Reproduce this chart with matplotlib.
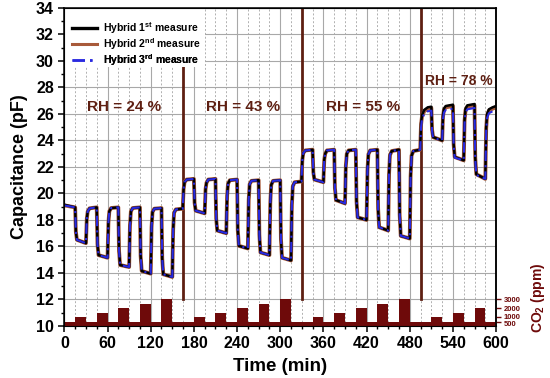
import matplotlib
matplotlib.use("Agg")
import matplotlib.pyplot as plt
from matplotlib.patches import Rectangle
from matplotlib.transforms import ScaledTranslation

plt.rcParams['font.family'] = ['Liberation Sans', 'DejaVu Sans']
plt.rcParams['mathtext.fontset'] = 'custom'
plt.rcParams['mathtext.rm'] = 'Liberation Sans'
plt.rcParams['mathtext.bf'] = 'Liberation Sans:bold'
plt.rcParams['mathtext.it'] = 'Liberation Sans:italic'

# ---------------- data ----------------
time_min = [
    0, 15, 16, 17.5, 30, 31.2, 32.5, 35, 45, 46, 47.5, 60, 61.2, 62.5, 65, 75, 76, 77.5, 90, 91.2, 92.5, 95,
    105, 106, 107.5, 120, 121.2, 122.5, 125, 135, 136, 137.5, 150, 151.2, 152.5, 155, 164.5,
    165.7, 167, 170, 180, 181, 182.5, 195, 196.2, 197.5, 200, 210, 211, 212.5, 225, 226.2, 227.5, 230,
    240, 241, 242.5, 255, 256.2, 257.5, 260, 270, 271, 272.5, 285, 286.2, 287.5, 290,
    300, 301, 302.5, 315, 316.2, 317.5, 320, 329.5,
    330.7, 332, 335, 345, 346, 347.5, 360, 361.2, 362.5, 365, 375, 376, 377.5, 390, 391.2, 392.5, 395,
    405, 406, 407.5, 420, 421.2, 422.5, 425, 435, 436, 437.5, 450, 451.2, 452.5, 455,
    465, 466, 467.5, 480, 481.2, 482.5, 485, 494.5,
    495.7, 497, 500, 505, 510, 511, 512.5, 525, 526.2, 527.5, 530, 540, 541, 542.5, 555, 556.2, 557.5, 560,
    570, 571, 572.5, 585, 586.2, 587.5, 590, 595, 600]

cap_1st = [
    19.15, 18.95, 17.1, 16.5, 16.25, 18.1, 18.65, 18.88, 18.95, 16.2, 15.35, 15.15, 17.75, 18.65, 18.9, 18.95, 15.65, 14.6, 14.45, 17.6, 18.65, 18.9,
    18.95, 15.3, 14.15, 13.95, 17.45, 18.6, 18.85, 18.9, 15.1, 13.9, 13.7, 17.3, 18.55, 18.8, 18.85,
    20.3, 20.85, 21.05, 21.1, 19.3, 18.7, 18.5, 20.3, 20.8, 21.05, 21.1, 18.1, 17.2, 17.0, 19.85, 20.75, 21.0,
    21.05, 17.25, 16.05, 15.85, 19.5, 20.7, 20.95, 21.0, 16.9, 15.55, 15.35, 19.3, 20.65, 20.95,
    21.0, 16.55, 15.15, 14.95, 19.15, 20.55, 20.85, 20.9,
    22.5, 23.05, 23.25, 23.3, 21.6, 21.05, 20.85, 22.55, 23.0, 23.25, 23.3, 20.4, 19.5, 19.25, 22.1, 23.0, 23.25,
    23.3, 19.45, 18.2, 18.0, 21.7, 22.95, 23.25, 23.3, 18.85, 17.45, 17.2, 21.45, 22.9, 23.2,
    23.3, 18.4, 16.8, 16.6, 21.3, 22.85, 23.2, 23.3,
    25.3, 25.9, 26.3, 26.5, 26.55, 24.8, 24.25, 24.0, 25.9, 26.4, 26.6, 26.7, 23.7, 22.75, 22.5, 25.6, 26.4, 26.65,
    26.75, 22.7, 21.45, 21.1, 25.0, 26.0, 26.35, 26.5, 26.6]

cap_2nd = [
    19.1, 18.95, 17.1, 16.5, 16.25, 18.1, 18.65, 18.88, 18.95, 16.2, 15.35, 15.15, 17.75, 18.65, 18.9, 18.95, 15.65, 14.6, 14.45, 17.6, 18.65, 18.9,
    18.95, 15.3, 14.15, 13.95, 17.45, 18.6, 18.85, 18.9, 15.1, 13.9, 13.7, 17.3, 18.55, 18.8, 18.85,
    20.3, 20.85, 21.05, 21.1, 19.3, 18.7, 18.5, 20.3, 20.8, 21.05, 21.1, 18.1, 17.2, 17.0, 19.85, 20.75, 21.0,
    21.05, 17.25, 16.05, 15.85, 19.5, 20.7, 20.95, 21.0, 16.9, 15.55, 15.35, 19.3, 20.65, 20.95,
    21.0, 16.55, 15.15, 14.95, 19.15, 20.55, 20.85, 20.9,
    22.5, 23.05, 23.25, 23.3, 21.6, 21.05, 20.85, 22.55, 23.0, 23.25, 23.3, 20.4, 19.5, 19.25, 22.1, 23.0, 23.25,
    23.3, 19.45, 18.2, 18.0, 21.7, 22.95, 23.25, 23.3, 18.85, 17.45, 17.2, 21.45, 22.9, 23.2,
    23.3, 18.4, 16.8, 16.6, 21.3, 22.85, 23.2, 23.3,
    25.2, 25.8, 26.2, 26.4, 26.45, 24.8, 24.25, 24.0, 25.8, 26.3, 26.5, 26.6, 23.7, 22.75, 22.5, 25.5, 26.3, 26.55,
    26.65, 22.7, 21.45, 21.1, 24.9, 25.9, 26.25, 26.4, 26.5]

cap_3rd = [
    19.1, 18.95, 17.1, 16.5, 16.25, 18.1, 18.65, 18.88, 18.95, 16.2, 15.35, 15.15, 17.75, 18.65, 18.9, 18.95, 15.65, 14.6, 14.45, 17.6, 18.65, 18.9,
    18.95, 15.3, 14.15, 13.95, 17.45, 18.6, 18.85, 18.9, 15.1, 13.9, 13.7, 17.3, 18.55, 18.8, 18.85,
    20.3, 20.85, 21.05, 21.1, 19.3, 18.7, 18.5, 20.3, 20.8, 21.05, 21.1, 18.1, 17.2, 17.0, 19.85, 20.75, 21.0,
    21.05, 17.25, 16.05, 15.85, 19.5, 20.7, 20.95, 21.0, 16.9, 15.55, 15.35, 19.3, 20.65, 20.95,
    21.0, 16.55, 15.15, 14.95, 19.15, 20.55, 20.85, 20.9,
    22.5, 23.05, 23.25, 23.3, 21.6, 21.05, 20.85, 22.55, 23.0, 23.25, 23.3, 20.4, 19.5, 19.25, 22.1, 23.0, 23.25,
    23.3, 19.45, 18.2, 18.0, 21.7, 22.95, 23.25, 23.3, 18.85, 17.45, 17.2, 21.45, 22.9, 23.2,
    23.3, 18.4, 16.8, 16.6, 21.3, 22.85, 23.2, 23.3,
    25.0, 25.6, 26.0, 26.2, 26.25, 24.7, 24.2, 24.0, 25.6, 26.1, 26.3, 26.4, 23.6, 22.7, 22.5, 25.3, 26.1, 26.35,
    26.45, 22.6, 21.4, 21.1, 24.7, 25.7, 26.05, 26.2, 26.3]

co2_start = [15, 45, 75, 105, 135, 180, 210, 240, 270, 300, 345, 375, 405, 435, 465, 510, 540, 570]
co2_ppm = [1000, 1500, 2000, 2500, 3000, 1000, 1500, 2000, 2500, 3000,
           1000, 1500, 2000, 2500, 3000, 1000, 1500, 2000]
co2_pulse_min = 15
co2_base_ppm = 500
co2_ticks = [500, 1000, 2000, 3000]

rh_change_min = [165, 330, 495]
rh_labels = ['RH = 24 %', 'RH = 43 %', 'RH = 55 %', 'RH = 78 %']
rh_label_x = [31, 197, 364, 501]
rh_label_y = [26.5, 26.5, 26.5, 28.5]

legend_labels = [r'Hybrid 1$^{\mathbf{st}}$ measure',
                 r'Hybrid 2$^{\mathbf{nd}}$ measure',
                 r'Hybrid 3$^{\mathbf{rd}}$ measure']

# ---------------- figure ----------------
BROWN = '#5e1f12'
DARKRED = '#6e0a0a'

fig = plt.figure(figsize=(5.5, 3.78), dpi=100)
ax = fig.add_axes([0.117, 0.1376, 0.785, 0.8414])
ax.set_xlim(0, 600)
ax.set_ylim(10, 34)

ax.set_xticks(range(0, 601, 60))
ax.set_xticks(range(0, 601, 15), minor=True)
ax.set_yticks(range(10, 35, 2))
ax.set_yticks(range(11, 34, 2), minor=True)

ax.grid(True, which='major', axis='both', color='#a8a8a8', lw=0.8)
ax.grid(True, which='minor', axis='x', color='#b0b0b0', lw=0.7, ls=(0, (2, 2)))
ax.set_axisbelow(True)

ax.tick_params(which='major', direction='out', length=4, width=1.1, labelsize=11.5)
ax.tick_params(which='minor', direction='out', length=2.5, width=1.0)
for lab in ax.get_xticklabels() + ax.get_yticklabels():
    lab.set_fontweight('bold')
for sp in ax.spines.values():
    sp.set_linewidth(1.1)

for xc in rh_change_min:
    ax.plot([xc, xc], [12, 34], color=BROWN, lw=2.0, zorder=3)

l2, = ax.plot(time_min, cap_2nd, color='#a85a3a', lw=2.8, zorder=4, label=legend_labels[1])
l1, = ax.plot(time_min, cap_1st, color='black', lw=1.8, zorder=5, label=legend_labels[0])
l3, = ax.plot(time_min, cap_3rd, color='#2a2ae0', lw=1.5, ls=(0, (5, 2, 1, 2)), zorder=6,
              label=legend_labels[2])

for x, y, t in zip(rh_label_x, rh_label_y, rh_labels):
    big = t != rh_labels[3]
    ax.text(x, y, t, color=BROWN, fontsize=11 if big else 10,
            fontweight='bold', va='center', ha='left', zorder=7)

ax.add_patch(Rectangle((0, 0.815), 0.326, 0.185, transform=ax.transAxes,
                       facecolor='white', edgecolor='none', zorder=8))

# one legend per row, so the row pitch matches the reference
row_y = [0.938, 0.886, 0.836]
row_lw = [2.4, 2.2, 1.8]
for handle, lab, yy, lw in zip([l1, l2, l3], legend_labels, row_y, row_lw):
    lg = ax.legend(handles=[handle], labels=[lab], loc='center left', bbox_to_anchor=(0.017, yy),
                   frameon=False, prop={'weight': 'bold', 'size': 7.5}, handlelength=2.4,
                   handletextpad=0.6, borderaxespad=0.0, borderpad=0.0)
    lg.set_zorder(9)
    lg.legend_handles[0].set_linewidth(lw)
    ax.add_artist(lg)

ax.set_xlabel('Time (min)', fontsize=13.5, fontweight='bold', labelpad=5)
ax.set_ylabel('Capacitance (pF)', fontsize=13, fontweight='bold', labelpad=6)

# CO2 axis
ax2 = ax.twinx()
ax2.set_ylim(51, 34827)
ax2.fill_between([0, 600], 0, co2_base_ppm, color=DARKRED, lw=0, zorder=2)
ax2.bar(co2_start, co2_ppm, width=co2_pulse_min, align='edge', color=DARKRED, lw=0, zorder=2)
ax2.set_xlim(0, 600)
ax2.set_yticks(co2_ticks)
ax2.tick_params(axis='y', direction='out', length=3.5, width=1.0, colors=DARKRED, labelsize=5.5, pad=2)
ax2.spines['right'].set_color('black')
ax2.spines['right'].set_linewidth(1.1)
for lab in ax2.get_yticklabels():
    lab.set_fontweight('bold')
# small nudges so the tightly packed 500 / 1000 labels don't collide
ticks2 = ax2.yaxis.get_major_ticks()
ticks2[0].label2.set_transform(ticks2[0].label2.get_transform()
                               + ScaledTranslation(0, -1.6 / 100, fig.dpi_scale_trans))
ticks2[1].label2.set_transform(ticks2[1].label2.get_transform()
                               + ScaledTranslation(0, 0.8 / 100, fig.dpi_scale_trans))
ax2.set_ylabel(r'CO$_\mathbf{2}$ (ppm)', color=DARKRED, fontsize=10, fontweight='bold')
ax2.yaxis.set_label_coords(1.077, 0.09)

fig.savefig('out.png', dpi=100)
